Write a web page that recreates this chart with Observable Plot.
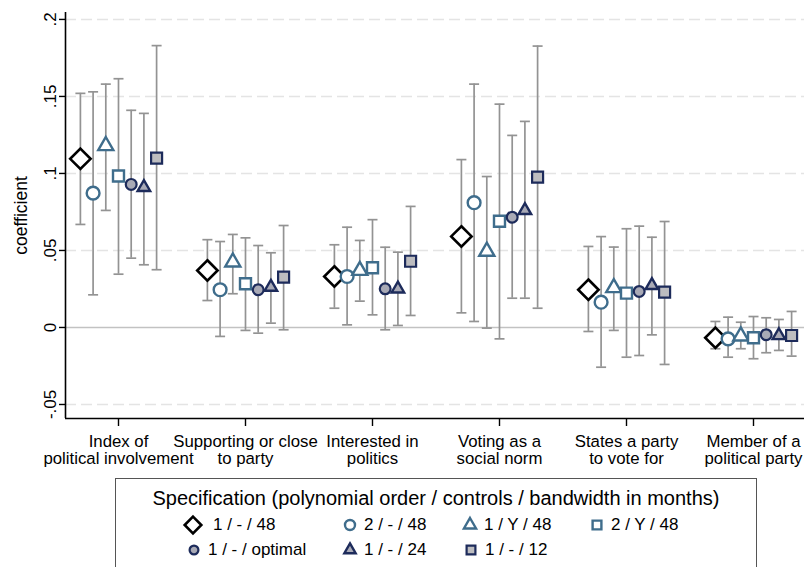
<!DOCTYPE html>
<html><head><meta charset="utf-8">
<script src="https://cdn.jsdelivr.net/npm/d3@7"></script>
<script src="https://cdn.jsdelivr.net/npm/@observablehq/plot@0.6"></script>
<style>
body{margin:0;background:#fff;font-family:"Liberation Sans",Arial,sans-serif;}
#wrap{position:relative;width:804px;height:567px;overflow:hidden;background:#fff;}
#wrap svg{display:block;}
</style></head><body><div id="wrap"></div>
<script>
// ---- data ----
const outcomes = ["Index of\npolitical involvement","Supporting or close\nto party","Interested in\npolitics","Voting as a\nsocial norm","States a party\nto vote for","Member of a\npolitical party"];
const specs = ["1 / - / 48","2 / - / 48","1 / Y / 48","2 / Y / 48","1 / - / optimal","1 / - / 24","1 / - / 12"];
const coef = [
 [0.1095,0.0872,0.118,0.0983,0.0929,0.091,0.110],
 [0.037,0.0245,0.0424,0.0284,0.0245,0.0262,0.0327],
 [0.0331,0.0331,0.037,0.0388,0.0251,0.0251,0.043],
 [0.0591,0.081,0.0494,0.069,0.0716,0.076,0.0976],
 [0.0245,0.0164,0.0258,0.0223,0.0234,0.0273,0.0229],
 [-0.0067,-0.0074,-0.0056,-0.0067,-0.0047,-0.0052,-0.0052]
];
const ciLow = [
 [0.0669,0.0212,0.076,0.0346,0.045,0.0407,0.0375],
 [0.0175,-0.0058,0.0219,-0.0019,-0.0037,0.0028,-0.0015],
 [0.0125,0.0017,0.0171,0.0082,-0.0015,0.0013,0.0078],
 [0.0095,0.0039,-0.0004,-0.0074,0.019,0.019,0.0125],
 [-0.0026,-0.0258,-0.0019,-0.0193,-0.0182,-0.0048,-0.024],
 [-0.0138,-0.0193,-0.0138,-0.0203,-0.0164,-0.0149,-0.0186]
];
const ciHigh = [
 [0.152,0.153,0.158,0.1615,0.141,0.139,0.183],
 [0.057,0.0558,0.0604,0.0582,0.0532,0.0485,0.0662],
 [0.0537,0.0651,0.0565,0.07,0.0521,0.0489,0.0786],
 [0.109,0.158,0.098,0.145,0.1247,0.1338,0.1827],
 [0.0526,0.059,0.0522,0.0641,0.0658,0.0586,0.0688],
 [0.0039,0.0067,0.0034,0.0071,0.0063,0.0052,0.0104]
];
const yTicks = [-0.05,0,0.05,0.1,0.15,0.2];
const yTickLabels = ["-.05","0",".05",".1",".15",".2"];

// ---- styles ----
const teal = "#3f6d8c", navy = "#1d2b5b";
const symStyle = [
  {symbol:"diamond2", stroke:"#000", fill:"#fff", r:9.2, sw:2.6, lr:7.5},
  {symbol:"circle", stroke:teal, fill:"#fff", r:6.4, sw:2.4, lr:5},
  {symbol:"triangle2", stroke:teal, fill:"#fff", r:7.2, sw:2.4, lr:5.8},
  {symbol:"square2", stroke:teal, fill:"#fff", r:7, sw:2.4, lr:5.6},
  {symbol:"circle", stroke:navy, fill:"#a9aab6", r:5.4, sw:2.2, lr:4.4},
  {symbol:"triangle2", stroke:navy, fill:"#a9aab6", r:6, sw:2.4, lr:5.4},
  {symbol:"square2", stroke:navy, fill:"#bdbdc0", r:7, sw:2.2, lr:5.6}
];

const table = [];
outcomes.forEach((o,i)=>specs.forEach((s,j)=>{
  table.push({outcome:o, spec:s, j, x:i+1+(j-3)*0.1, coef:coef[i][j], lo:ciLow[i][j], hi:ciHigh[i][j]});
}));

const cap = {draw(ctx,size){const r=Math.sqrt(size/Math.PI); ctx.moveTo(-r,0); ctx.lineTo(r,0);}};
const xDomain = [0.5827, 6.4016];
const yDomain = [-0.0591, 0.2045];

const chart = Plot.plot({
  width:804, height:478,
  marginLeft:65, marginRight:0, marginTop:12, marginBottom:60,
  style:{fontFamily:"Liberation Sans, Arial, sans-serif", color:"#000", background:"#fff"},
  x:{domain:xDomain},
  y:{domain:yDomain},
  marks:[
    Plot.ruleY(yTicks.filter(d=>d!==0), {stroke:"#e4e4e4", strokeWidth:1.4, strokeDasharray:"11,5"}),
    Plot.ruleY([0], {stroke:"#c2c2c2", strokeWidth:1.5}),
    Plot.ruleX(table, {x:"x", y1:"lo", y2:"hi", stroke:"#939393", strokeWidth:1.7}),
    Plot.dot(table, {x:"x", y:"lo", symbol:cap, r:5, stroke:"#939393", strokeWidth:1.7}),
    Plot.dot(table, {x:"x", y:"hi", symbol:cap, r:5, stroke:"#939393", strokeWidth:1.7}),
    ...symStyle.map((st,j)=>Plot.dot(table.filter(d=>d.j===j), {x:"x", y:"coef", symbol:st.symbol, r:st.r, stroke:st.stroke, fill:st.fill, strokeWidth:st.sw})),
    Plot.ruleX([xDomain[0]], {stroke:"#000", strokeWidth:1.6}),
    Plot.ruleY([yDomain[0]], {stroke:"#000", strokeWidth:1.6}),
    Plot.axisX({ticks:d3.range(1, outcomes.length+1), tickFormat:i=>outcomes[i-1], tickSize:8, tickPadding:8, fontSize:16.8, lineHeight:1.03, label:null, stroke:"#000", strokeWidth:1.4}),
    Plot.axisY({ticks:yTicks, tickFormat:d=>yTickLabels[yTicks.indexOf(d)], tickSize:6, tickPadding:4, tickRotate:-90, fontSize:17, label:null, strokeWidth:1.4}),
    Plot.text(["coefficient"], {frameAnchor:"left", dx:-44, rotate:-90, fontSize:17.5, textAnchor:"middle", text:d=>d})
  ]
});
const wrap = document.getElementById("wrap");
wrap.appendChild(chart);

// ---- legend ----
const lg = document.createElement("div");
lg.style.cssText = "position:absolute;left:115px;top:478px;width:642px;height:120px;border:1.5px solid #555;box-sizing:border-box;";
const title = document.createElement("div");
title.textContent = "Specification (polynomial order / controls / bandwidth in months)";
title.style.cssText = "position:absolute;left:0;right:0;top:8px;text-align:center;font-size:20px;line-height:22px;white-space:nowrap;";
lg.appendChild(title);
const symX = [77,234,354,481, 78,234,355];
const rowY = [46,46,46,46, 71,71,71];
const symFn = {diamond2:d3.symbolDiamond2, circle:d3.symbolCircle, triangle2:d3.symbolTriangle2, square2:d3.symbolSquare2};
specs.forEach((s,j)=>{
  const st = symStyle[j];
  const svg = d3.create("svg").attr("width",24).attr("height",24)
    .style("position","absolute").style("left",(symX[j]-12)+"px").style("top",(rowY[j]-12)+"px").style("overflow","visible");
  svg.append("path").attr("transform","translate(12,12)")
    .attr("d", d3.symbol(symFn[st.symbol], Math.PI*st.lr*st.lr)())
    .attr("fill", st.fill).attr("stroke", st.stroke).attr("stroke-width", st.sw);
  lg.appendChild(svg.node());
  const t = document.createElement("div");
  t.textContent = s;
  t.style.cssText = `position:absolute;left:${symX[j]+(j===0?20:14)}px;top:${rowY[j]-10}px;font-size:17px;line-height:20px;white-space:nowrap;`;
  lg.appendChild(t);
});
wrap.appendChild(lg);
</script></body></html>
